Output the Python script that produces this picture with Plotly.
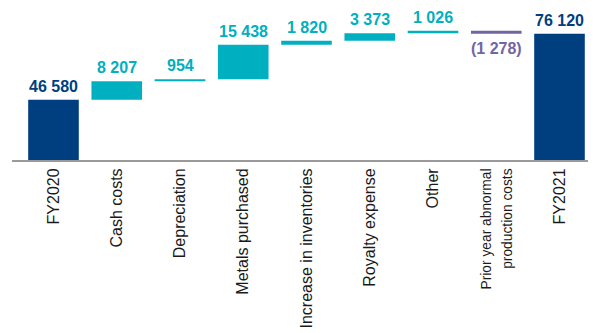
import plotly.graph_objects as go

categories = ["FY2020", "Cash costs", "Depreciation", "Metals purchased",
              "Increase in inventories", "Royalty expense", "Other",
              "Prior year abnormal production costs", "FY2021"]
tick_labels = ["FY2020", "Cash costs", "Depreciation", "Metals purchased",
               "Increase in inventories", "Royalty expense", "Other",
               "<span style='font-size:13.8px'>Prior year abnormal</span><br>"
               "<span style='font-size:13.8px'>production costs</span>",
               "FY2021"]
values = [46580, 8207, 954, 15438, 1820, 3373, 1026, -1278, 76120]
measures = ["absolute", "relative", "relative", "relative", "relative",
            "relative", "relative", "relative", "total"]

NAVY = "#003F7F"
TEAL = "#00AFC0"
PURPLE = "#7265A3"

fig = go.Figure(go.Waterfall(
    x=categories, y=values, measure=measures,
    increasing=dict(marker=dict(color=TEAL)),
    decreasing=dict(marker=dict(color=PURPLE)),
    totals=dict(marker=dict(color=NAVY)),
    connector=dict(visible=False),
    textposition="none", hoverinfo="skip",
))


def fmt(v):
    s = f"{abs(v):,}".replace(",", " ")
    return f"({s})" if v < 0 else s


annotations = []
cum = 0
for cat, v, m in zip(categories, values, measures):
    if m == "absolute":
        cum = v
        label, col, y, anchor, shift = v, NAVY, v, "bottom", 3
    elif m == "total":
        label, col, y, anchor, shift = cum, NAVY, cum, "bottom", 3
    else:
        cum += v
        if v >= 0:
            label, col, y, anchor, shift = v, TEAL, cum, "bottom", 3
        else:
            label, col, y, anchor, shift = v, PURPLE, cum, "top", -4
    annotations.append(dict(x=cat, y=y, text=fmt(label), showarrow=False,
                            xref="x", yref="y", yanchor=anchor, yshift=shift,
                            font=dict(family="Liberation Sans", size=16, color=col,
                                      weight="bold")))

fig.update_layout(
    width=588, height=325,
    margin=dict(l=4, r=0, t=2, b=173, autoexpand=False),
    paper_bgcolor="white", plot_bgcolor="white",
    showlegend=False, bargap=0.225,
    annotations=annotations,
    font=dict(family="Liberation Sans", size=16, color="#1a1a1a"),
)
fig.update_xaxes(range=[-0.656, 8.577], tickangle=-90, showline=True,
                 linecolor="#9a9a9a", linewidth=2, ticks="", showgrid=False,
                 automargin=False, tickmode="array",
                 tickvals=categories, ticktext=tick_labels,
                 tickfont=dict(size=16, color="#1a1a1a"))
fig.update_yaxes(range=[19590, 86730], visible=False, showgrid=False,
                 automargin=False)

fig.write_html("out.html")
